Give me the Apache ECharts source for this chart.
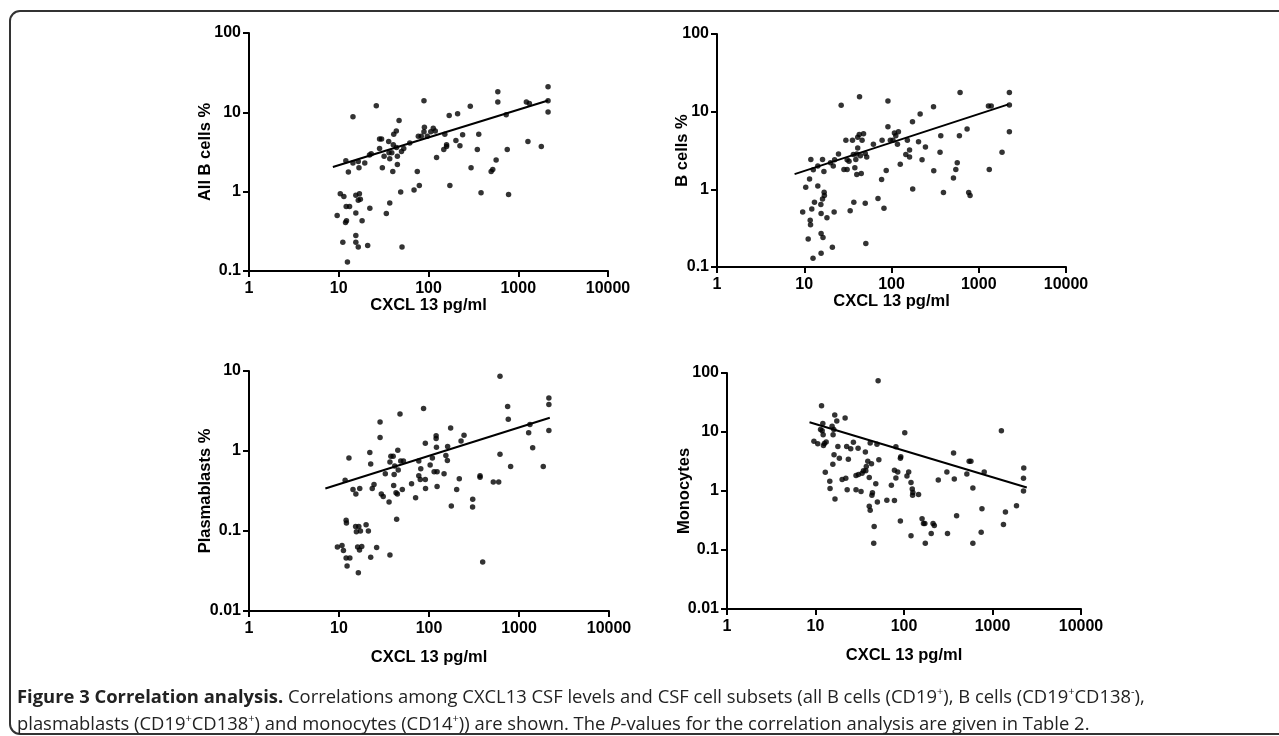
<!DOCTYPE html>
<html><head><meta charset="utf-8">
<script src="https://cdn.jsdelivr.net/npm/echarts@6/dist/echarts.min.js"></script>
<style>
html,body{margin:0;padding:0;background:#fff;width:1279px;height:736px;overflow:hidden;}
#chart{position:absolute;left:0;top:0;width:1279px;height:736px;}
#frame{position:absolute;left:9px;top:10px;width:1320px;height:725px;border:2px solid #333;border-radius:11px;box-sizing:border-box;}
#caption{position:absolute;left:17px;top:682px;font-family:'Open Sans';font-size:18.4px;line-height:27px;color:#222;white-space:nowrap;}
#caption b{font-weight:700;}
#caption sup{font-size:11px;vertical-align:8px;line-height:0;}
</style></head>
<body>
<div id="frame"></div>
<div id="chart"></div>
<div id="caption"><b>Figure 3 Correlation analysis.</b> Correlations among CXCL13 CSF levels and CSF cell subsets (all B cells (CD19<sup>+</sup>), B cells (CD19<sup>+</sup>CD138<sup>-</sup>),<br>plasmablasts (CD19<sup>+</sup>CD138<sup>+</sup>) and monocytes (CD14<sup>+</sup>)) are shown. The <i>P</i>-values for the correlation analysis are given in Table 2.</div>
<script>
// ---- data ----
const xTitle = 'CXCL 13 pg/ml';
const yTitles = ['All B cells %', 'B cells %', 'Plasmablasts %', 'Monocytes'];

const allB_x = [9.6,10.4,11.4,11.1,12.1,13.2,11.9,12.2,12.5,12,
12.8,14.4,14.4,15.5,15.5,15.5,15.5,16.5,16.5,17,
17.4,16.8,16.5,18.2,19.5,21,22.2,22,23,26.2,
28.5,28.5,30,30.6,32,33.9,36.3,36,37,37,
39,40.5,40,41,43.8,45,45,44,47,49,
50,50.7,53,61.8,69,75,77,79,83,89,
89,90,97,106,113,119,123,152,159,159,
148,170,173,202,211,224,240,292,298,363,
350,385,499,520,567,592,592,734,754,780,
1231,1330,1282,1807,2148,2148,2148];
const allB_y = [0.5,0.94,0.87,0.23,0.65,0.65,0.41,0.43,0.13,2.46,
1.77,8.8,2.3,0.54,0.9,0.28,0.23,0.2,0.78,0.94,
0.8,2.0,2.4,0.43,2.3,0.21,0.62,2.9,3.0,12.1,
3.5,4.6,4.6,2.0,2.8,0.53,3.1,4.3,2.6,0.72,
3.1,3.9,1.8,5.3,5.8,2.8,2.2,3.6,7.9,0.99,
3.2,0.2,3.5,4.1,1.05,1.8,5.0,1.2,5.0,5.7,
14,6.5,5.0,5.7,6.3,5.8,2.7,5.3,3.7,3.9,
3.4,9.1,1.2,4.4,9.6,3.8,5.2,11.9,2.0,5.3,
3.4,0.97,1.8,1.9,2.5,18.2,13.5,9.3,3.4,0.92,
13.5,12.9,4.3,3.7,21,14,10.1];
const allB_fitX = [8.6, 2150];
const allB_fitY = [2.05, 14.1];

const bCells_x = [9.6,10.4,11.1,11.5,11.7,11.8,12.2,11.9,12.6,12.7,
13.1,14.3,14.3,15.5,15.6,15.6,15.6,16.2,16.2,16.4,
16.8,16.9,17,18.2,20,21.5,21,22,22.3,24.7,
26.5,28.5,30,31,31,32.6,33.6,35.7,36.5,37,
38,39,40,40,41,41,42.7,43,44,45,
46,47.8,50,50.8,50,52,62,70,77,78,
82,87,91,91,97,104,108,112,117,120,
126,146,152,161,161,174,175,204,213,224,
245,303,305,367,360,394,513,546,567,600,
611,735,767,795,1291,1390,1320,1849,2244,2244,
2244];
const bCells_y = [0.51,1.06,0.23,1.36,0.40,0.35,0.56,2.43,0.13,1.79,
0.68,1.1,2.0,0.64,0.49,0.27,0.15,2.43,0.75,0.24,
1.7,0.92,0.83,0.43,2.2,2.0,0.18,0.51,2.4,2.85,
12.1,1.8,4.3,1.8,2.4,2.3,0.53,4.3,2.8,0.68,
1.9,2.43,2.85,1.55,3.4,4.7,5.1,15.6,2.7,1.6,
4.3,5.2,2.9,0.2,0.66,2.6,3.8,0.76,1.34,4.3,
0.57,1.75,6.4,13.7,4.3,4.3,5.3,4.9,3.8,5.5,
2.1,2.8,4.3,2.6,3.2,7.4,1.01,4.1,9.3,2.4,
3.5,11.6,1.73,4.9,3.0,0.91,1.4,1.8,2.2,4.9,
17.6,6.0,0.91,0.83,11.8,11.8,1.8,3.0,17.6,12.2,
5.5];
const bCells_fitX = [7.75, 2185];
const bCells_fitY = [1.57, 12.4];

const plasma_x = [9.6,10.8,11.2,12,12.3,12,12.1,13.2,11.7,12.9,
14.3,15.4,15.3,15.6,16.1,16.4,16.6,16.9,17,17.3,
17.9,20,21.2,22,22.5,22.5,23.4,24.5,26.2,28.6,
28.6,29.5,31,32.7,36,36.8,36.8,37.7,40,40.5,
41,41.6,43,43.7,45,45.5,44.5,47.6,48.5,50.5,
52,64,71,77,77,80,81,87,91,91,
91.5,103,109,114,120,120,121,123,123,147,
154,161,160,174,177,203,217,227,245,306,
305,369,369,395,518,595,615,615,748,760,
807,1280,1323,1419,1860,2148,2148,2148];
const plasma_y = [0.063,0.066,0.057,0.046,0.0365,0.136,0.126,0.046,0.43,0.82,
0.33,0.29,0.114,0.098,0.063,0.030,0.114,0.058,0.34,0.10,
0.064,0.12,0.10,0.96,0.69,0.047,0.34,0.38,0.062,2.3,
1.47,0.29,0.27,0.52,0.23,0.73,0.050,0.86,0.86,0.37,
0.51,0.65,0.30,0.14,1.02,0.58,0.29,2.9,0.75,0.33,
0.75,0.39,0.26,0.75,0.49,0.44,0.6,3.4,1.25,0.44,
0.34,0.67,0.82,0.55,1.43,1.55,1.11,0.55,0.36,0.52,
0.88,1.14,0.76,1.94,0.205,0.33,0.45,1.33,1.57,0.25,
0.2,0.47,0.49,0.041,0.41,0.41,8.6,0.91,3.6,2.5,
0.64,1.69,2.15,1.1,0.64,4.6,3.8,1.8];
const plasma_fitX = [7.05, 2200];
const plasma_fitY = [0.34, 2.6];

const mono_x = [9.6,10.6,11.4,11.7,11.9,12.1,12.2,12.3,12.6,13.2,
12.9,14.5,14.6,15.4,15.8,16.1,15.7,16.2,16.5,16.6,
17.4,17.9,18.6,20,21.6,22,22.5,22.8,23.5,25,
26.8,28.7,28.7,30.3,30.6,32.7,33.6,34.8,36.6,37,
37.5,39,40.5,40.5,41.5,41.5,42.9,43.4,44,46,
45.5,48,49.5,50,51,52,64,72,78,78,
81,81,85,91,91,92,102,108,113,120,
120,124,125,126,146,160,166,172,174,203,
213,220,244,305,310,363,370,393,513,545,
570,600,600,745,760,806,1260,1330,1400,1867,
2256,2240,2240];
const mono_y = [7.0,6.3,11,27.9,10.5,14,9.0,5.9,6.4,6.8,
2.07,1.47,1.1,12.5,9.0,11,2.83,4.1,19.4,0.73,
15.3,5.7,3.6,1.56,17.3,1.65,5.7,1.05,3.45,5.2,
6.7,1.83,1.05,5.3,1.9,0.98,2.0,2.2,4.6,2.2,
2.6,3.2,1.7,0.55,6.5,0.47,2.9,0.85,0.93,0.25,
0.13,1.33,6.2,0.65,74,3.4,0.7,1.25,2.25,0.69,
5.6,1.66,2.1,3.6,0.31,3.8,9.7,1.8,2.1,1.4,
0.175,1.08,0.85,0.94,0.87,0.34,0.28,0.28,0.13,0.19,
0.28,0.26,1.54,2.1,0.19,4.4,1.6,0.38,1.95,3.2,
3.2,1.12,0.13,0.2,0.5,2.1,10.5,0.27,0.44,0.56,
2.45,1.65,1.0];
const mono_fitX = [8.56, 2440];
const mono_fitY = [14.6, 1.15];

const xRange = [1, 10000];
const yRanges = [[0.1, 100], [0.1, 100], [0.01, 10], [0.01, 100]];

// ---- build ----
const zip = (a, b) => a.map((v, i) => [v, b[i]]);
const panels = [
  {x: allB_x, y: allB_y, fx: allB_fitX, fy: allB_fitY},
  {x: bCells_x, y: bCells_y, fx: bCells_fitX, fy: bCells_fitY},
  {x: plasma_x, y: plasma_y, fx: plasma_fitX, fy: plasma_fitY},
  {x: mono_x, y: mono_y, fx: mono_fitX, fy: mono_fitY}
];
const grids = [
  {left: 249, top: 33, width: 359, height: 238},
  {left: 717, top: 34, width: 349, height: 233},
  {left: 249, top: 371, width: 360, height: 240},
  {left: 727, top: 373, width: 354, height: 236}
];
const nameGapsX = [26, 26, 38, 38];
const nameGapsY = [35, 26, 35, 34];
const FONT = "'Liberation Sans', Arial, sans-serif";
const fmt = v => String(+Number(v).toPrecision(6));
const axisCommon = {
  type: 'log', logBase: 10,
  axisLine: {show: true, lineStyle: {color: '#000', width: 2}},
  axisTick: {show: true, inside: false, length: 6, lineStyle: {color: '#000', width: 2}},
  minorTick: {show: false},
  splitLine: {show: false},
  axisLabel: {color: '#000', fontFamily: FONT, fontWeight: 'bold', fontSize: 16, formatter: fmt},
  nameTextStyle: {color: '#000', fontFamily: FONT, fontWeight: 'bold', fontSize: 16.5},
  nameLocation: 'middle',
  nameMoveOverlap: false
};
const xAxes = [], yAxes = [], series = [];
panels.forEach((p, i) => {
  xAxes.push(Object.assign({}, axisCommon, {
    gridIndex: i, min: xRange[0], max: xRange[1], name: xTitle, nameGap: nameGapsX[i],
    axisLabel: Object.assign({}, axisCommon.axisLabel, {margin: 10})
  }));
  yAxes.push(Object.assign({}, axisCommon, {
    gridIndex: i, min: yRanges[i][0], max: yRanges[i][1], name: yTitles[i], nameGap: nameGapsY[i],
    axisLabel: Object.assign({}, axisCommon.axisLabel, {margin: 8})
  }));
  series.push({
    type: 'scatter', xAxisIndex: i, yAxisIndex: i, data: zip(p.x, p.y),
    symbol: 'circle', symbolSize: 5.5, itemStyle: {color: '#000'}, silent: true
  });
  series.push({
    type: 'line', xAxisIndex: i, yAxisIndex: i, data: zip(p.fx, p.fy),
    showSymbol: false, lineStyle: {color: '#000', width: 2}, silent: true
  });
});
const chart = echarts.init(document.getElementById('chart'), null, {renderer: 'canvas'});
chart.setOption({
  animation: false,
  backgroundColor: 'transparent',
  grid: grids,
  xAxis: xAxes,
  yAxis: yAxes,
  series: series
});
</script>
</body></html>
